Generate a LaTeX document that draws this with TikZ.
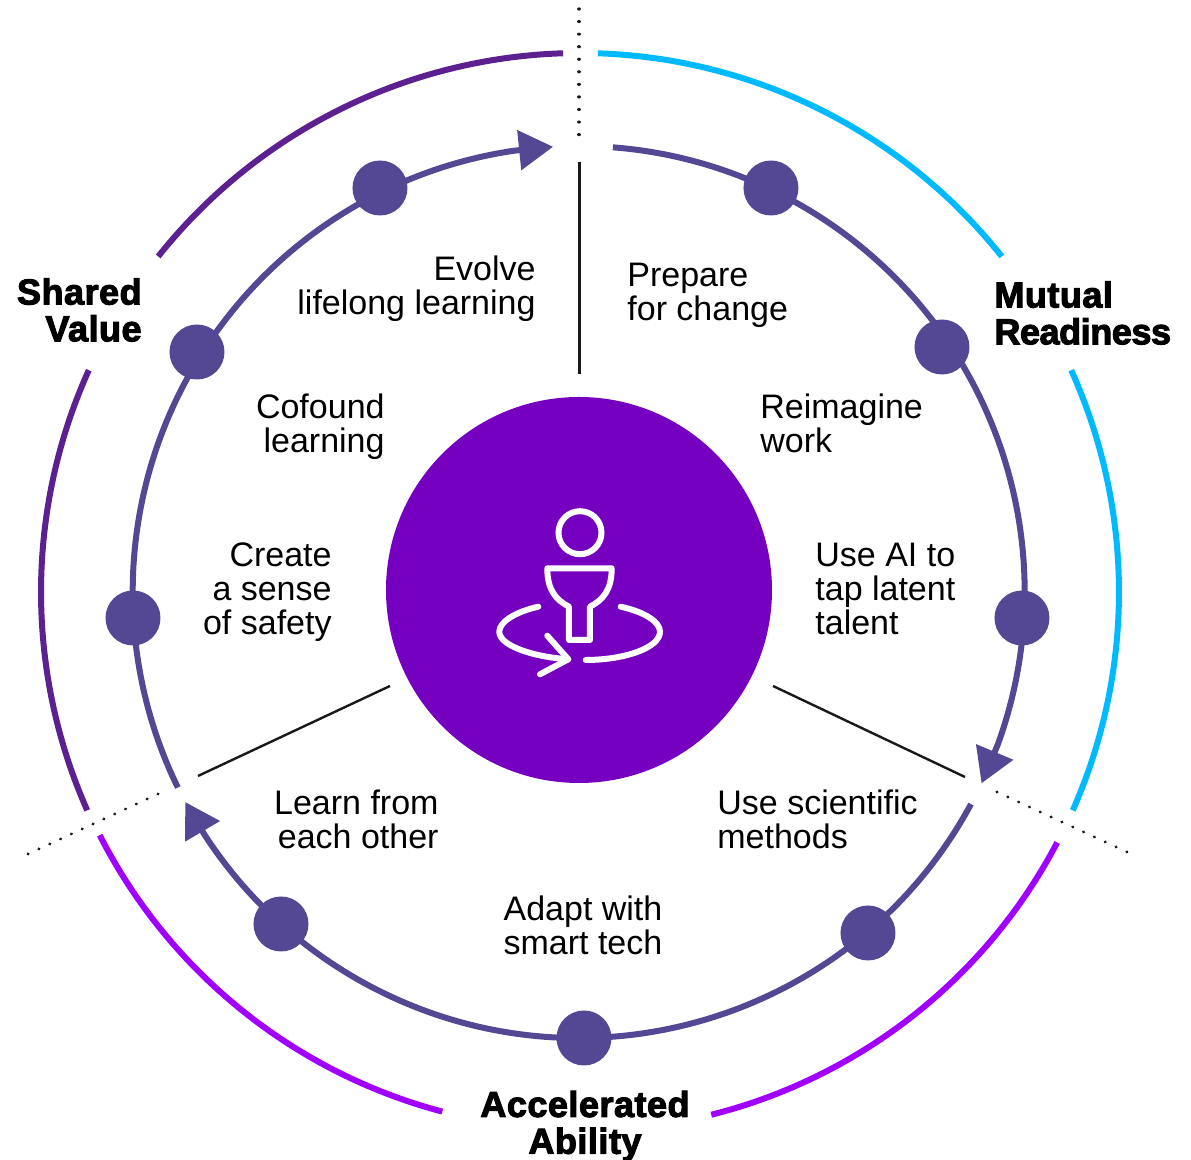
\documentclass[tikz,border=0pt]{standalone}
\usepackage{fontspec}
\setmainfont{Liberation Sans}
\usetikzlibrary{arrows.meta}
\newfontfamily\heavyfont[FakeBold=3,LetterSpace=1.4]{Liberation Sans Bold}

\definecolor{ringcolor}{HTML}{544794}
\definecolor{corecolor}{HTML}{7500C0}
\definecolor{sharedcolor}{HTML}{5C2090}
\definecolor{mutualcolor}{HTML}{00BAFF}
\definecolor{abilitycolor}{HTML}{A100FF}

\tikzstyle{stop}=[circle,
    minimum size=27.5pt,
    inner sep=0pt,
    fill=ringcolor]
\tikzstyle{ring}=[line width=3pt,
    draw=ringcolor]
\tikzstyle{ringarrow}=[ring,
    -{Triangle[length=17pt,width=19.5pt]}]
\tikzstyle{outer}=[line width=3pt]
\tikzstyle{spoke}=[line width=1.2pt,
    draw=black!90]
\tikzstyle{dots}=[line width=1.6pt,
    line cap=round,
    draw=black!90,
    dash pattern=on 0.01pt off 5.95pt]
\tikzstyle{label}=[inner sep=0pt,
    font=\fontsize{17}{17}\selectfont]
\tikzstyle{pillar}=[inner sep=0pt,
    font=\heavyfont\fontsize{18}{18.4}\selectfont]
\tikzstyle{icon}=[line width=3pt,
    draw=white,
    line cap=round,
    line join=round]

\begin{document}
\begin{tikzpicture}[x=0.5pt,y=0.5pt]
    \useasboundingbox (-579,-570) rectangle (612,590);

    \node (core) [circle,fill=corecolor,minimum size=193pt,inner sep=0pt] at (0,0) {};

    % icon
    \node (head) [circle,draw=white,line width=3pt,minimum size=21.5pt,inner sep=0pt] at (1,57.3) {};
    \draw [icon] (-31.7,21.7) -- (32.7,21.7) .. controls (32.7,0) and (24,-10) .. (11,-16.7)
        -- (11,-50) -- (-10,-50) -- (-10,-16.7)
        .. controls (-23,-10) and (-31.7,0) .. cycle;
    \draw [icon] (41.7,-16.7) .. controls (66,-22) and (81,-32) .. (81,-41.7)
        .. controls (81,-58) and (45,-70) .. (6.7,-70);
    \draw [icon] (-40.7,-16.7) .. controls (-64,-22) and (-79.7,-32) .. (-79.7,-41.7)
        .. controls (-79.7,-56) and (-45,-67) .. (-10.7,-69.3);
    \draw [icon] (-31.7,-45.7) -- (-10.7,-69.3) -- (-39,-84.3);

    % outer arcs
    \begin{scope}[shift={(1,-2)}]
        \draw [outer,draw=sharedcolor] (91.8:539) arc[start angle=91.8,end angle=141.5,radius=539];
        \draw [outer,draw=sharedcolor] (155.7:539) arc[start angle=155.7,end angle=203.9,radius=539];
        \draw [outer,draw=mutualcolor] (88.1:539) arc[start angle=88.1,end angle=38.5,radius=539];
        \draw [outer,draw=mutualcolor] (24.3:539) arc[start angle=24.3,end angle=-23.9,radius=539];
        \draw [outer,draw=abilitycolor] (-75.9:539) arc[start angle=-75.9,end angle=-27.7,radius=539];
    \end{scope}
    \draw [outer,draw=abilitycolor,shift={(1,-0.5)}] (207:539) arc[start angle=207,end angle=255.2,radius=539];

    % inner ring
    \begin{scope}[shift={(-0.3,-2)}]
        \draw [ringarrow] (85.6:446) arc[start angle=85.6,end angle=-20,radius=446] -- (-25.4:446);
        \draw [ringarrow] (-28.4:446) arc[start angle=-28.4,end angle=-147,radius=446] -- (-151.9:446);
        \draw [ringarrow] (206:446) arc[start angle=206,end angle=98.3,radius=446] -- (93.3:446);
    \end{scope}

    \node (stopa) [stop] at (192,402) {};
    \node (stopb) [stop] at (363,243) {};
    \node (stopc) [stop] at (443,-28) {};
    \node (stopd) [stop] at (289,-343) {};
    \node (stope) [stop] at (5,-448) {};
    \node (stopf) [stop] at (-298,-334) {};
    \node (stopg) [stop] at (-446,-28) {};
    \node (stoph) [stop] at (-382,238) {};
    \node (stopi) [stop] at (-199,402) {};

    % spokes and dots
    \coordinate (topa) at (0.5,428);
    \coordinate (topb) at (0.5,216);
    \coordinate (righta) at (194,-96);
    \coordinate (rightb) at (386,-187);
    \coordinate (lefta) at (-189,-96);
    \coordinate (leftb) at (-381,-186);
    \draw [spoke] (topa) -- (topb);
    \draw [spoke] (righta) -- (rightb);
    \draw [spoke] (lefta) -- (leftb);
    \coordinate (dotta) at (0,581);
    \coordinate (dottb) at (0,455);
    \coordinate (dotra) at (418,-202);
    \coordinate (dotrb) at (548,-262);
    \coordinate (dotla) at (-421,-204);
    \coordinate (dotlb) at (-551,-264);
    \draw [dots,dash pattern=on 0.01pt off 6.27pt] (dotta) -- (dottb);
    \draw [dots] (dotra) -- (dotrb);
    \draw [dots] (dotla) -- (dotlb);

    % texts
    \node (evolve) [label,align=right,anchor=east] at (-43,301) {Evolve\\lifelong learning};
    \node (prepare) [label,align=left,anchor=west] at (48,295) {Prepare\\for change};
    \node (cofound) [label,align=right,anchor=east] at (-194,163) {Cofound\\learning};
    \node (reimagine) [label,align=left,anchor=west] at (181,167) {Reimagine\\work};
    \node (create) [label,align=right,anchor=east] at (-247,-2) {Create\\a sense\\of safety};
    \node (useai) [label,align=left,anchor=west] at (236,1) {Use AI to\\tap latent\\talent};
    \node (learn) [label,align=right,anchor=east] at (-140,-229) {Learn from\\each other};
    \node (science) [label,align=left,anchor=west] at (138,-229) {Use scientific\\methods};
    \node (adapt) [label,align=left,anchor=center] at (4,-335) {Adapt with\\smart tech};

    \node (shared) [pillar,align=right,anchor=east] at (-437,280) {Shared\\Value};
    \node (mutual) [pillar,align=left,anchor=west] at (415,277) {Mutual\\{\addfontfeature{LetterSpace=-1.2}Readiness}};
    \node (ability) [pillar,align=center,anchor=center] at (6,-536) {Accelerated\\Ability};

\end{tikzpicture}
\end{document}
